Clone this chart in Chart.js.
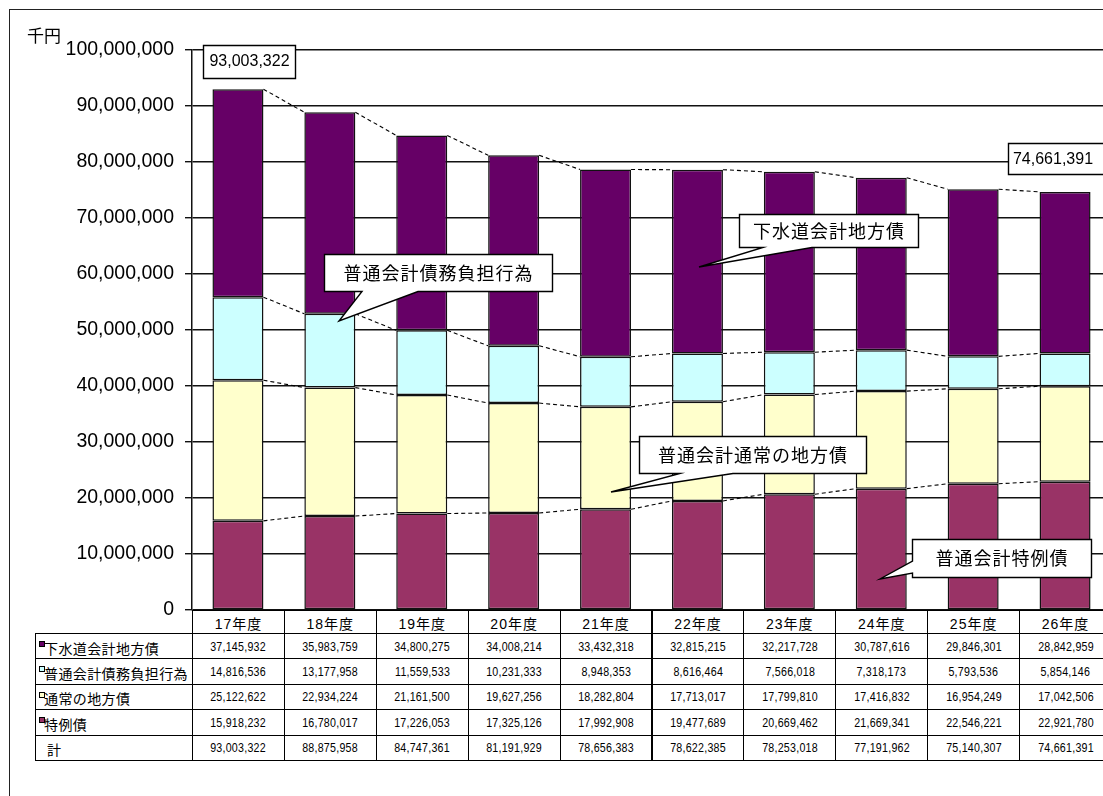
<!DOCTYPE html>
<html><head><meta charset="utf-8">
<script src="https://cdn.jsdelivr.net/npm/chart.js@4"></script>
<style>
html,body{margin:0;padding:0;background:#fff;overflow:hidden;}
#wrap{position:relative;width:1103px;height:796px;overflow:hidden;background:#fff;}
#frame{position:absolute;left:9px;top:9px;width:1300px;height:1000px;border:1.5px solid #222;box-sizing:border-box;}
#c{position:absolute;left:0;top:0;}
#unit{position:absolute;left:27px;top:25px;font-size:17px;font-family:"Noto Sans CJK JP","Noto Sans CJK SC",sans-serif;color:#000;line-height:20px;}
.cell{position:absolute;box-sizing:border-box;border:1px solid #000;display:flex;align-items:center;justify-content:center;background:#fff;color:#000;white-space:nowrap;overflow:visible;}
.hdr{font-size:14px;letter-spacing:1px;font-family:"Liberation Sans","Noto Sans CJK JP",sans-serif;padding-top:2px;}
.num span{display:inline-block;font-size:13px;font-family:"Liberation Sans",sans-serif;transform:scaleX(0.82);transform-origin:center;letter-spacing:0.3px;}
.lab{justify-content:flex-start;font-size:14px;letter-spacing:0.4px;font-family:"Noto Sans CJK JP",sans-serif;padding-left:8px;padding-top:3px;}
.mk{position:absolute;left:3px;top:7px;width:6px;height:6px;box-sizing:border-box;border:1px solid #000;}
</style></head>
<body>
<div id="wrap">
  <div id="frame"></div>
  <canvas id="c" width="1115" height="796"></canvas>
  <div id="unit">千円</div>
</div>
<script>
// ---- data ----
const categories = ['17年度','18年度','19年度','20年度','21年度','22年度','23年度','24年度','25年度','26年度'];
const seriesNames = ['下水道会計地方債','普通会計債務負担行為','通常の地方債','特例債'];
const gesuido   = [37145932, 35983759, 34800275, 34008214, 33432318, 32815215, 32217728, 30787616, 29846301, 28842959];
const saimuFutan= [14816536, 13177958, 11559533, 10231333, 8948353, 8616464, 7566018, 7318173, 5793536, 5854146];
const tsujo     = [25122622, 22934224, 21161500, 19627256, 18282804, 17713017, 17799810, 17416832, 16954249, 17042506];
const tokurei   = [15918232, 16780017, 17226053, 17325126, 17992908, 19477689, 20669462, 21669341, 22546221, 22921780];
const totals    = [93003322, 88875958, 84747361, 81191929, 78656383, 78622385, 78253018, 77191962, 75140307, 74661391];
const yTickValues = [0,10000000,20000000,30000000,40000000,50000000,60000000,70000000,80000000,90000000,100000000];
const totalLabel = '計';
const callouts = ['下水道会計地方債','普通会計債務負担行為','普通会計通常の地方債','普通会計特例債'];

const colors = {gesuido:'#660066', saimu:'#CCFFFF', tsujo:'#FFFFCC', tokurei:'#993366'};
const fmt = v => v.toLocaleString('en-US');

// dashed series lines between bars
const seriesLines = {
  id:'seriesLines',
  afterDatasetsDraw(chart){
    const ctx = chart.ctx;
    ctx.save();
    ctx.strokeStyle = '#000';
    ctx.lineWidth = 1.1;
    ctx.setLineDash([4,3]);
    chart.data.datasets.forEach((ds, d) => {
      const meta = chart.getDatasetMeta(d);
      for (let i = 0; i < meta.data.length - 1; i++) {
        const a = meta.data[i], b = meta.data[i+1];
        ctx.beginPath();
        ctx.moveTo(a.x + a.width/2, a.y);
        ctx.lineTo(b.x - b.width/2, b.y);
        ctx.stroke();
      }
    });
    ctx.restore();
  }
};

function bubbleBottom(ctx, x0, y0, x1, y1, b1, b2, tx, ty){
  ctx.beginPath();
  ctx.moveTo(x0,y0); ctx.lineTo(x1,y0); ctx.lineTo(x1,y1);
  ctx.lineTo(b2,y1); ctx.lineTo(tx,ty); ctx.lineTo(b1,y1);
  ctx.lineTo(x0,y1); ctx.closePath();
}
function bubbleLeft(ctx, x0, y0, x1, y1, b1, b2, tx, ty){
  ctx.beginPath();
  ctx.moveTo(x0,y0); ctx.lineTo(x1,y0); ctx.lineTo(x1,y1); ctx.lineTo(x0,y1);
  ctx.lineTo(x0,b2); ctx.lineTo(tx,ty); ctx.lineTo(x0,b1);
  ctx.closePath();
}

const calloutPlugin = {
  id:'callouts',
  afterDraw(chart){
    const ctx = chart.ctx;
    ctx.save();
    ctx.lineWidth = 1.4;
    ctx.strokeStyle = '#000';
    ctx.fillStyle = '#fff';
    ctx.setLineDash([]);
    const drawText = (t, cx, cy, font, ls) => {
      ctx.save();
      ctx.fillStyle = '#000';
      ctx.font = font;
      ctx.letterSpacing = ls || '0px';
      ctx.textAlign = 'center';
      ctx.textBaseline = 'middle';
      ctx.fillText(t, cx, cy);
      ctx.restore();
    };
    const cjk = '18px "Noto Sans CJK JP", "Noto Sans CJK SC", sans-serif';
    // total value boxes
    ctx.beginPath(); ctx.rect(203.5,45.5,92,33); ctx.fill(); ctx.stroke();
    drawText(fmt(totals[0]), 249.5, 62, '16px "Liberation Sans", Arial, sans-serif');
    ctx.beginPath(); ctx.rect(1008.5,143.5,120,31); ctx.fill(); ctx.stroke();
    drawText(fmt(totals[totals.length-1]), 1053, 160, '16px "Liberation Sans", Arial, sans-serif');
    // 下水道会計地方債
    bubbleBottom(ctx, 739.5,214.5,918.5,247.5, 763,812, 699,267); ctx.fill(); ctx.stroke();
    drawText(callouts[0], 829, 231.5, cjk, '1px');
    // 普通会計債務負担行為
    bubbleBottom(ctx, 324.5,254.5,552.5,291.5, 362,418, 339,321); ctx.fill(); ctx.stroke();
    drawText(callouts[1], 438.5, 273, cjk, '1px');
    // 普通会計通常の地方債
    bubbleBottom(ctx, 639.5,436.5,866.5,473.5, 680,733, 611,492); ctx.fill(); ctx.stroke();
    drawText(callouts[2], 753, 455, cjk, '1px');
    // 普通会計特例債
    bubbleLeft(ctx, 912.5,539.5,1091.5,577.5, 561,573, 880,579); ctx.fill(); ctx.stroke();
    drawText(callouts[3], 1002, 558.5, cjk, '1px');
    ctx.restore();
  }
};

const chart = new Chart(document.getElementById('c'), {
  type:'bar',
  data:{
    labels: categories,
    datasets:[
      {label:seriesNames[3], data:tokurei, backgroundColor:colors.tokurei},
      {label:seriesNames[2], data:tsujo, backgroundColor:colors.tsujo},
      {label:seriesNames[1], data:saimuFutan, backgroundColor:colors.saimu},
      {label:seriesNames[0], data:gesuido, backgroundColor:colors.gesuido}
    ].map(d => Object.assign(d, {borderColor:'#111', borderWidth:1.5, borderSkipped:false, barPercentage:0.555, categoryPercentage:1}))
  },
  options:{
    responsive:false,
    animation:false,
    devicePixelRatio:1,
    layout:{padding:{top:50, bottom:186, left:0, right:4}},
    plugins:{legend:{display:false}, tooltip:{enabled:false}},
    scales:{
      x:{stacked:true, display:false},
      y:{
        stacked:true, min:0, max:100000000,
        afterFit(s){ s.width = 192; },
        afterBuildTicks(s){ s.ticks = yTickValues.map(v => ({value:v})); },
        grid:{color:'#111', lineWidth:1.4, tickLength:7, drawTicks:true},
        border:{display:true, color:'#111', width:1.5},
        ticks:{
          padding:11, color:'#000',
          font:{family:'"Liberation Sans", Arial, sans-serif', size:19.5},
          callback:(v) => fmt(v)
        }
      }
    }
  },
  plugins:[seriesLines, calloutPlugin]
});

// data table below the chart, columns aligned on the category scale
(function buildTable(){
  const wrap = document.getElementById('wrap');
  const xs = chart.scales.x;
  const ca = chart.chartArea;
  const catW = (ca.right - ca.left) / categories.length;
  const labLeft = 35;
  const rowTops = [ca.bottom, ca.bottom + 23];
  const rowH = 25.4;
  for (let r = 1; r <= 5; r++) rowTops.push(rowTops[1] + r * rowH);
  const add = (cls, l, t, w, h, html) => {
    const d = document.createElement('div');
    d.className = 'cell ' + cls;
    d.style.left = l + 'px'; d.style.top = t + 'px';
    d.style.width = (w + 1) + 'px'; d.style.height = (h + 1) + 'px';
    d.innerHTML = html;
    wrap.appendChild(d);
    return d;
  };
  categories.forEach((c, i) => {
    const l = xs.getPixelForValue(i) - catW / 2;
    add('hdr', l, rowTops[0], catW, rowTops[1] - rowTops[0], c);
  });
  const rows = [
    {name:seriesNames[0], color:colors.gesuido, vals:gesuido},
    {name:seriesNames[1], color:colors.saimu, vals:saimuFutan},
    {name:seriesNames[2], color:colors.tsujo, vals:tsujo},
    {name:seriesNames[3], color:colors.tokurei, vals:tokurei},
    {name:totalLabel, color:null, vals:totals}
  ];
  rows.forEach((row, r) => {
    const t = rowTops[r + 1], h = rowTops[r + 2] - t;
    const lab = add('lab', labLeft, t, ca.left - labLeft, h, '');
    if (row.color) {
      const mk = document.createElement('div');
      mk.className = 'mk'; mk.style.background = row.color;
      lab.appendChild(mk);
    } else {
      lab.style.paddingLeft = '11px';
    }
    lab.appendChild(document.createTextNode(row.name));
    row.vals.forEach((v, i) => {
      const l = xs.getPixelForValue(i) - catW / 2;
      add('num', l, t, catW, h, '<span>' + fmt(v) + '</span>');
    });
  });
})();
</script>
</body></html>
